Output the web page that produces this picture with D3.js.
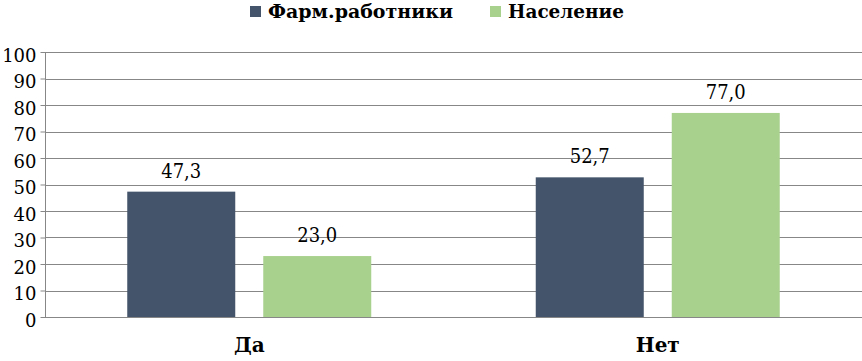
<!DOCTYPE html>
<html><head><meta charset="utf-8">
<script src="https://cdn.jsdelivr.net/npm/d3@7"></script>
<style>body{margin:0;background:#fff}svg{display:block}
svg text{font-family:"DejaVu Serif",serif}</style>
</head><body>
<script>
const categories = ["Да", "Нет"];
const seriesNames = ["Фарм.работники", "Население"];
const pharmValues = [47.3, 52.7];
const popValues = [23.0, 77.0];
const yTicks = [0,10,20,30,40,50,60,70,80,90,100];
const colors = ["#44546A", "#A9D18E"];

const W = 862, H = 361;
const m = {left: 45, right: 0, top: 52, bottom: 44};
const svg = d3.select("body").append("svg").attr("width", W).attr("height", H);

const x0 = d3.scaleBand().domain(categories).range([m.left, W - m.right]).paddingInner(0).paddingOuter(0);
const y = d3.scaleLinear().domain([0, 100]).range([H - m.bottom, m.top]);

const groupW = 244;
const x1 = d3.scaleBand().domain(seriesNames).range([0, groupW]).paddingInner(28/136).paddingOuter(0);

svg.append("g").selectAll("line").data(yTicks).join("line")
  .attr("x1", m.left).attr("x2", W - m.right)
  .attr("y1", d => Math.round(y(d)) + 0.5).attr("y2", d => Math.round(y(d)) + 0.5)
  .attr("stroke", "#878787").attr("stroke-width", 1);

const yAxis = d3.axisLeft(y).tickValues(yTicks).tickSize(5).tickPadding(7).tickFormat(d3.format("d"));
const ga = svg.append("g").attr("transform", `translate(${m.left + 0.5},0)`).call(yAxis);
ga.attr("font-family", null);
ga.select(".domain").attr("stroke", "#878787").attr("d", `M0,${y(100)}V${y(0)}`);
ga.selectAll(".tick line").attr("stroke", "#878787");
ga.selectAll(".tick text").attr("font-size", 18).attr("fill", "#000").attr("dx", 3).attr("dy", "0.52em");

const data = categories.map((c, i) => ({cat: c, vals: [
  {s: seriesNames[0], v: pharmValues[i], c: colors[0]},
  {s: seriesNames[1], v: popValues[i], c: colors[1]}
]}));

const g = svg.append("g").selectAll("g").data(data).join("g")
  .attr("transform", d => `translate(${x0(d.cat) + (x0.bandwidth() - groupW) / 2},0)`);

g.selectAll("rect").data(d => d.vals).join("rect")
  .attr("x", d => x1(d.s)).attr("width", x1.bandwidth())
  .attr("y", d => y(d.v)).attr("height", d => y(0) - y(d.v))
  .attr("fill", d => d.c);

g.selectAll("text").data(d => d.vals).join("text")
  .attr("x", d => x1(d.s) + x1.bandwidth() / 2)
  .attr("y", d => y(d.v) - 14)
  .attr("text-anchor", "middle")
  .attr("font-size", 20).attr("fill", "#000")
  .attr("textLength", 40).attr("lengthAdjust", "spacingAndGlyphs")
  .text(d => d.v.toFixed(1).replace(".", ","));

svg.append("g").selectAll("text").data(categories).join("text")
  .attr("x", d => x0(d) + x0.bandwidth() / 2)
  .attr("y", 352)
  .attr("text-anchor", "middle")
  .attr("font-size", 20).attr("font-weight", "bold").attr("fill", "#000")
  .text(d => d);

const legendX = [250, 490];
const legendW = [185, 116];
const lg = svg.append("g").selectAll("g").data(seriesNames).join("g")
  .attr("transform", (d, i) => `translate(${legendX[i]},0)`);
lg.append("rect").attr("x", 0).attr("y", 6).attr("width", 11).attr("height", 11)
  .attr("fill", (d, i) => colors[i]);
lg.append("text").attr("x", 18).attr("y", 18)
  .attr("font-size", 19).attr("font-weight", "bold").attr("fill", "#000")
  .attr("textLength", (d, i) => legendW[i]).attr("lengthAdjust", "spacingAndGlyphs")
  .text(d => d);
</script>
</body></html>
